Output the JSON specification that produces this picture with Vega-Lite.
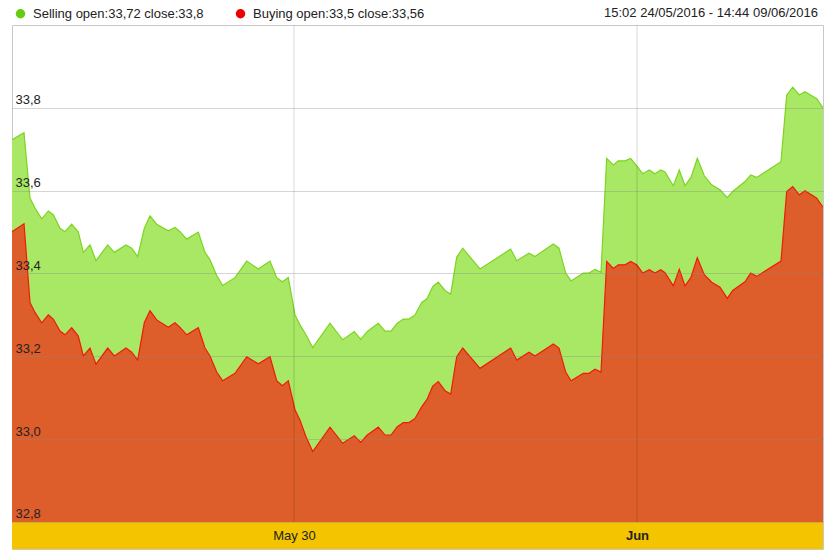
{
  "$schema": "https://vega.github.io/schema/vega-lite/v6.json",
  "width": 811,
  "height": 524,
  "autosize": {"type": "none"},
  "padding": {"left": 12, "top": 25, "right": 9, "bottom": 5},
  "background": "white",
  "config": {"font": "Liberation Sans", "view": {"stroke": "#c8c8c8"}},
  "title": {"text": "15:02 24/05/2016 - 14:44 09/06/2016", "anchor": "end", "frame": "group", "fontSize": 13, "fontWeight": "normal", "color": "#222", "offset": -13, "dx": -5},
  "data": {"values": [
    {"t": 0, "sell": 33.723, "buy": 33.501},
    {"t": 12, "sell": 33.740, "buy": 33.520},
    {"t": 18, "sell": 33.582, "buy": 33.330},
    {"t": 23, "sell": 33.558, "buy": 33.306},
    {"t": 29.7, "sell": 33.532, "buy": 33.281},
    {"t": 36.3, "sell": 33.551, "buy": 33.300},
    {"t": 41.3, "sell": 33.542, "buy": 33.290},
    {"t": 48, "sell": 33.509, "buy": 33.261},
    {"t": 53, "sell": 33.501, "buy": 33.252},
    {"t": 59.7, "sell": 33.519, "buy": 33.269},
    {"t": 66.3, "sell": 33.500, "buy": 33.249},
    {"t": 71.3, "sell": 33.451, "buy": 33.201},
    {"t": 78, "sell": 33.469, "buy": 33.220},
    {"t": 84, "sell": 33.431, "buy": 33.181},
    {"t": 95.7, "sell": 33.469, "buy": 33.220},
    {"t": 102.3, "sell": 33.451, "buy": 33.201},
    {"t": 114, "sell": 33.469, "buy": 33.220},
    {"t": 119.7, "sell": 33.461, "buy": 33.210},
    {"t": 125.7, "sell": 33.441, "buy": 33.191},
    {"t": 132.3, "sell": 33.509, "buy": 33.281},
    {"t": 138, "sell": 33.539, "buy": 33.310},
    {"t": 144.7, "sell": 33.519, "buy": 33.288},
    {"t": 156.3, "sell": 33.503, "buy": 33.270},
    {"t": 163, "sell": 33.511, "buy": 33.281},
    {"t": 168, "sell": 33.501, "buy": 33.270},
    {"t": 174.7, "sell": 33.483, "buy": 33.252},
    {"t": 186.3, "sell": 33.500, "buy": 33.269},
    {"t": 193, "sell": 33.451, "buy": 33.220},
    {"t": 198, "sell": 33.433, "buy": 33.201},
    {"t": 204.7, "sell": 33.395, "buy": 33.162},
    {"t": 210.7, "sell": 33.371, "buy": 33.141},
    {"t": 223, "sell": 33.390, "buy": 33.159},
    {"t": 234.7, "sell": 33.430, "buy": 33.199},
    {"t": 246.3, "sell": 33.411, "buy": 33.182},
    {"t": 258, "sell": 33.430, "buy": 33.199},
    {"t": 264.7, "sell": 33.390, "buy": 33.141},
    {"t": 270.3, "sell": 33.380, "buy": 33.129},
    {"t": 276.3, "sell": 33.390, "buy": 33.141},
    {"t": 283, "sell": 33.300, "buy": 33.071},
    {"t": 288, "sell": 33.276, "buy": 33.046},
    {"t": 294, "sell": 33.252, "buy": 33.006},
    {"t": 300.7, "sell": 33.221, "buy": 32.970},
    {"t": 318, "sell": 33.280, "buy": 33.029},
    {"t": 330.7, "sell": 33.240, "buy": 32.990},
    {"t": 342.3, "sell": 33.260, "buy": 33.008},
    {"t": 348.7, "sell": 33.241, "buy": 32.992},
    {"t": 355.3, "sell": 33.260, "buy": 33.010},
    {"t": 366.3, "sell": 33.280, "buy": 33.029},
    {"t": 373, "sell": 33.261, "buy": 33.010},
    {"t": 379, "sell": 33.261, "buy": 33.010},
    {"t": 385.3, "sell": 33.280, "buy": 33.030},
    {"t": 391.3, "sell": 33.290, "buy": 33.040},
    {"t": 397, "sell": 33.290, "buy": 33.040},
    {"t": 403, "sell": 33.300, "buy": 33.050},
    {"t": 409.7, "sell": 33.330, "buy": 33.078},
    {"t": 415, "sell": 33.339, "buy": 33.096},
    {"t": 420.7, "sell": 33.368, "buy": 33.128},
    {"t": 426.3, "sell": 33.379, "buy": 33.139},
    {"t": 433, "sell": 33.359, "buy": 33.117},
    {"t": 438.7, "sell": 33.350, "buy": 33.109},
    {"t": 444.7, "sell": 33.439, "buy": 33.199},
    {"t": 450.7, "sell": 33.461, "buy": 33.220},
    {"t": 468, "sell": 33.411, "buy": 33.171},
    {"t": 498.7, "sell": 33.459, "buy": 33.220},
    {"t": 504.7, "sell": 33.431, "buy": 33.191},
    {"t": 517, "sell": 33.449, "buy": 33.210},
    {"t": 523, "sell": 33.441, "buy": 33.201},
    {"t": 541.3, "sell": 33.471, "buy": 33.230},
    {"t": 547, "sell": 33.461, "buy": 33.220},
    {"t": 553.7, "sell": 33.401, "buy": 33.162},
    {"t": 559, "sell": 33.382, "buy": 33.141},
    {"t": 571.3, "sell": 33.401, "buy": 33.159},
    {"t": 577, "sell": 33.401, "buy": 33.159},
    {"t": 583, "sell": 33.410, "buy": 33.169},
    {"t": 589, "sell": 33.403, "buy": 33.162},
    {"t": 594.7, "sell": 33.678, "buy": 33.429},
    {"t": 601.3, "sell": 33.662, "buy": 33.412},
    {"t": 606.3, "sell": 33.672, "buy": 33.421},
    {"t": 613, "sell": 33.672, "buy": 33.421},
    {"t": 618.7, "sell": 33.678, "buy": 33.429},
    {"t": 624.7, "sell": 33.660, "buy": 33.421},
    {"t": 630.7, "sell": 33.641, "buy": 33.401},
    {"t": 637.3, "sell": 33.650, "buy": 33.409},
    {"t": 643, "sell": 33.641, "buy": 33.401},
    {"t": 648.7, "sell": 33.650, "buy": 33.409},
    {"t": 653, "sell": 33.645, "buy": 33.402},
    {"t": 661.3, "sell": 33.612, "buy": 33.370},
    {"t": 667.3, "sell": 33.650, "buy": 33.410},
    {"t": 673, "sell": 33.612, "buy": 33.370},
    {"t": 679, "sell": 33.632, "buy": 33.391},
    {"t": 685.3, "sell": 33.678, "buy": 33.438},
    {"t": 692.3, "sell": 33.636, "buy": 33.397},
    {"t": 699.7, "sell": 33.614, "buy": 33.379},
    {"t": 708, "sell": 33.602, "buy": 33.367},
    {"t": 715.3, "sell": 33.583, "buy": 33.340},
    {"t": 720.7, "sell": 33.598, "buy": 33.359},
    {"t": 733, "sell": 33.622, "buy": 33.380},
    {"t": 738.7, "sell": 33.638, "buy": 33.401},
    {"t": 744.7, "sell": 33.632, "buy": 33.393},
    {"t": 769, "sell": 33.670, "buy": 33.430},
    {"t": 774.7, "sell": 33.831, "buy": 33.598},
    {"t": 780.7, "sell": 33.850, "buy": 33.610},
    {"t": 787.3, "sell": 33.831, "buy": 33.590},
    {"t": 793, "sell": 33.839, "buy": 33.600},
    {"t": 804.7, "sell": 33.822, "buy": 33.582},
    {"t": 811, "sell": 33.800, "buy": 33.560}
  ]},
  "layer": [
    {
      "mark": {"type": "area", "color": "#a8e864", "opacity": 1, "clip": true},
      "encoding": {
        "x": {
          "field": "t", "type": "quantitative",
          "scale": {"domain": [0, 811], "nice": false, "zero": false},
          "axis": {
            "values": [282, 625],
            "labelExpr": "datum.value < 400 ? 'May 30' : 'Jun'",
            "title": null, "grid": false, "domain": false,
            "ticks": false, "tickSize": 0,
            "labelBaseline": "middle", "labelPadding": -13.5, "labelFontSize": 13, "labelColor": "#222",
            "labelFontWeight": {"condition": {"test": "datum.value > 400", "value": "bold"}, "value": "normal"},
            "labelFlush": false, "zindex": 1
          }
        },
        "y": {
          "field": "sell", "type": "quantitative",
          "scale": {"domain": [32.7348, 34.0], "nice": false, "zero": false},
          "axis": {
            "values": [32.8, 33.0, 33.2, 33.4, 33.6, 33.8],
            "labelExpr": "replace(format(datum.value, '.1f'), '.', ',')",
            "title": null, "grid": true, "gridColor": "#888", "gridOpacity": 0.35,
            "domain": false, "ticks": false, "tickSize": 0,
            "labelAlign": "left", "labelBaseline": "alphabetic", "labelPadding": -3, "labelOffset": -4,
            "labelFontSize": 13, "labelColor": "#222", "labelFlush": false, "zindex": 1
          }
        }
      }
    },
    {
      "mark": {"type": "line", "color": "#7dd420", "strokeWidth": 1.2, "clip": true},
      "encoding": {
        "x": {"field": "t", "type": "quantitative"},
        "y": {"field": "sell", "type": "quantitative"}
      }
    },
    {
      "mark": {"type": "area", "color": "#dd5e2b", "opacity": 1, "clip": true},
      "encoding": {
        "x": {"field": "t", "type": "quantitative"},
        "y": {"field": "buy", "type": "quantitative"}
      }
    },
    {
      "mark": {"type": "line", "color": "#f01a0a", "strokeWidth": 1.2, "clip": true},
      "encoding": {
        "x": {"field": "t", "type": "quantitative"},
        "y": {"field": "buy", "type": "quantitative"}
      }
    },
    {
      "data": {"values": [{}]},
      "mark": {"type": "rect", "color": "#f4c400", "opacity": 1},
      "encoding": {
        "x": {"datum": 0, "type": "quantitative"},
        "x2": {"datum": 811},
        "y": {"datum": 32.8, "type": "quantitative"},
        "y2": {"datum": 32.7348}
      }
    },
    {
      "data": {"values": [{}]},
      "mark": {"type": "rule", "stroke": "#000", "strokeOpacity": 0.15, "strokeWidth": 1},
      "encoding": {
        "x": {"datum": 282, "type": "quantitative"},
        "y": {"datum": 32.8, "type": "quantitative"},
        "y2": {"datum": 34.0}
      }
    },
    {
      "data": {"values": [{}]},
      "mark": {"type": "rule", "stroke": "#000", "strokeOpacity": 0.15, "strokeWidth": 1},
      "encoding": {
        "x": {"datum": 625, "type": "quantitative"},
        "y": {"datum": 32.8, "type": "quantitative"},
        "y2": {"datum": 34.0}
      }
    },
    {
      "data": {"values": [{"s": "Selling"}, {"s": "Buying"}]},
      "mark": {"type": "point", "filled": true, "shape": "circle", "opacity": 1, "clip": true},
      "encoding": {
        "x": {"datum": -100, "type": "quantitative"},
        "y": {"datum": 33.5, "type": "quantitative"},
        "color": {
          "field": "s", "type": "nominal",
          "scale": {"domain": ["Selling", "Buying"], "range": ["#66cc11", "#ee0000"]},
          "legend": {
            "orient": "none", "legendX": 2, "legendY": -18, "direction": "horizontal",
            "title": null, "symbolType": "circle", "symbolSize": 90, "symbolOpacity": 1,
            "labelFontSize": 13, "labelColor": "#222", "labelOffset": 6, "columnPadding": 30, "labelLimit": 400,
            "labelExpr": "datum.value == 'Selling' ? 'Selling open:33,72 close:33,8' : 'Buying open:33,5 close:33,56'"
          }
        }
      }
    }
  ]
}
